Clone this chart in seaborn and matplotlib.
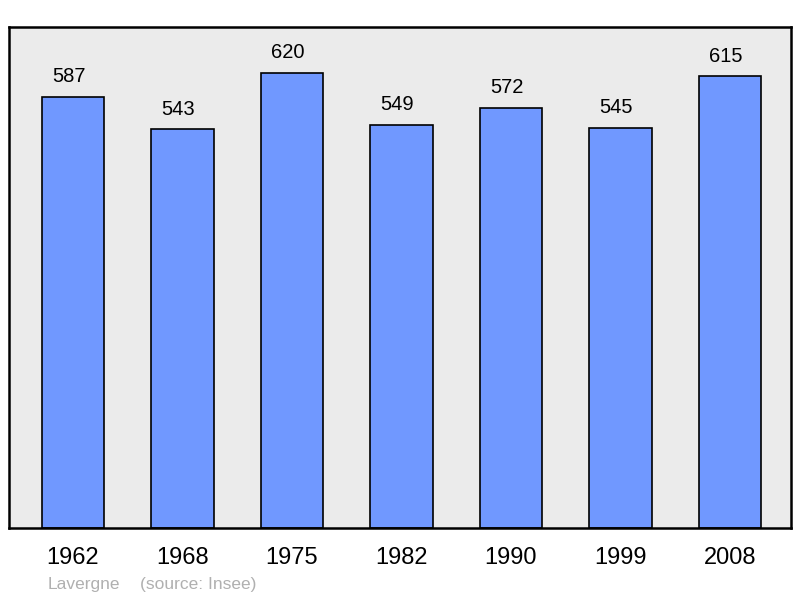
import matplotlib
matplotlib.use("Agg")
import matplotlib.pyplot as plt
import seaborn as sns
import pandas as pd

years = ["1962", "1968", "1975", "1982", "1990", "1999", "2008"]
population = [587, 543, 620, 549, 572, 545, 615]
commune = "Lavergne"
source = "(source: Insee)"

df = pd.DataFrame({"year": years, "pop": population})

sns.set_theme(style="white")
plt.rcParams["font.family"] = ["Liberation Sans", "DejaVu Sans"]
plt.rcParams["text.color"] = "black"
plt.rcParams["xtick.color"] = "black"

fig = plt.figure(figsize=(8, 5.98), dpi=100)
ax = fig.add_axes([9 / 800, 70 / 598, 782 / 800, 501 / 598])
ax.set_facecolor("#ebebeb")

sns.barplot(data=df, x="year", y="pop", ax=ax, color="#7098ff", width=0.57,
            edgecolor="black", linewidth=1.2, saturation=1)

for p, v in zip(ax.patches, population):
    ax.annotate(str(v), (p.get_x() + p.get_width() / 2, v), xytext=(-3, 7.5),
                textcoords="offset points", ha="center", va="bottom",
                fontsize=14.5, color="black")

ax.set_xlim(-0.584, 6.557)
ax.set_ylim(0, 682)
ax.set_xlabel("")
ax.set_ylabel("")
ax.set_yticks([])
ax.tick_params(axis="x", length=0, labelsize=17, pad=14, labelcolor="black")
for s in ax.spines.values():
    s.set_visible(True)
    s.set_color("black")
    s.set_linewidth(1.8)

fig.text(48 / 800, 1 - 584 / 598, commune, color="#b0b0b0", fontsize=12.5, va="center", ha="left")
fig.text(140 / 800, 1 - 584 / 598, source, color="#b0b0b0", fontsize=12.5, va="center", ha="left")

fig.savefig("out.png", dpi=100, facecolor="white")
